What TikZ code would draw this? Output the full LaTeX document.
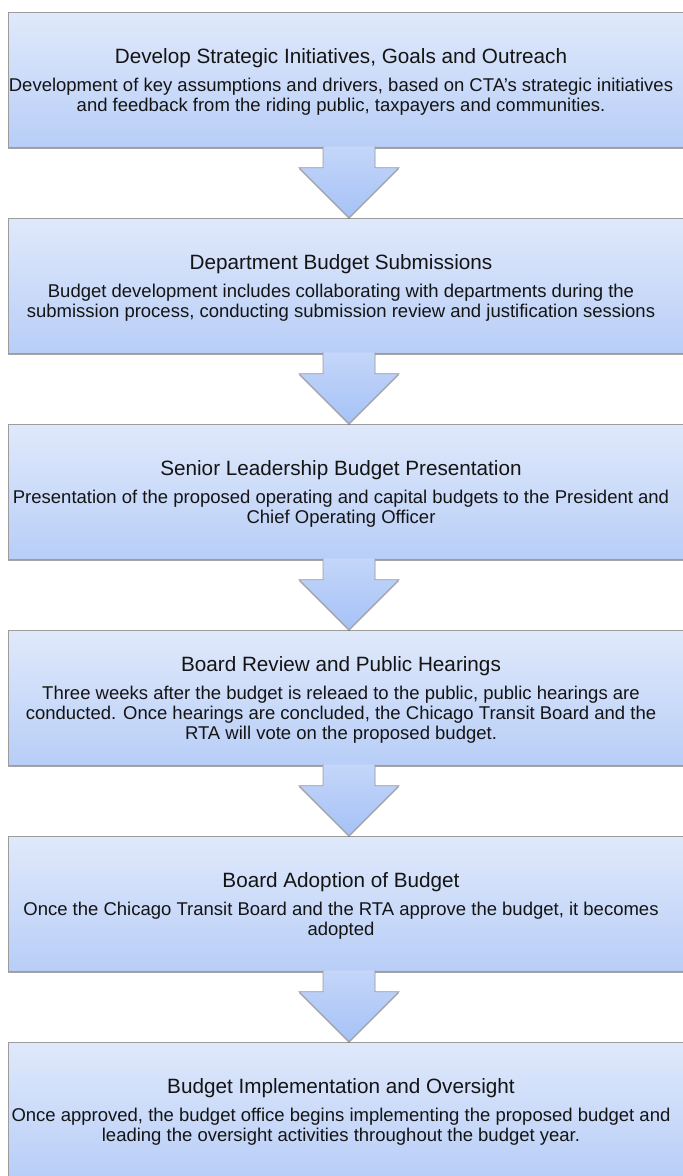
\documentclass[tikz,border=0pt]{standalone}
\usepackage{fontspec}
\setmainfont{Liberation Sans}
\usetikzlibrary{calc,shadows}
\definecolor{boxtop}{HTML}{E0E9FB}
\definecolor{boxbot}{HTML}{B8CEF7}
\definecolor{arrtop}{HTML}{C4D6F9}
\definecolor{arrbot}{HTML}{A6C2F7}
\definecolor{edge}{HTML}{9C9C9C}
\definecolor{txt}{HTML}{141414}
\tikzset{
  stepbox/.style={rectangle, minimum width=692pt, minimum height=135pt, inner sep=0pt,
    draw=edge, line width=0.7pt, top color=boxtop, bottom color=boxbot,
    drop shadow={shadow xshift=0pt, shadow yshift=-2pt, opacity=0.5, fill=black!70}},
  steptext/.style={align=center, text=txt, inner sep=0pt, font=\fontsize{18.5}{20}\selectfont},
  blockarrow/.style={draw=edge, line width=0.7pt, top color=arrtop, bottom color=arrbot,
    drop shadow={shadow xshift=0pt, shadow yshift=-1.5pt, opacity=0.4, fill=black!70}}
}
\newcommand{\steptitle}[1]{{\fontsize{20.7}{22}\selectfont #1}}
\begin{document}
\begin{tikzpicture}[x=1pt,y=-1pt]
\useasboundingbox (0,0) rectangle (683,1176);
\clip (0,0) rectangle (683,1176);
% boxes
\node[stepbox] (b1) at (354,79.5) {};
\node[stepbox] (b2) at (354,285.5) {};
\node[stepbox] (b3) at (354,491.5) {};
\node[stepbox] (b4) at (354,697.5) {};
\node[stepbox] (b5) at (354,903.5) {};
\node[stepbox] (b6) at (354,1109.5) {};
% texts
\node[steptext] (t1) at ($(b1.center)+(-13,2.5)$) {\steptitle{Develop Strategic Initiatives, Goals and Outreach}\\[8pt]
  Development of key assumptions and drivers, based on CTA’s strategic initiatives\\
  and feedback from the riding public, taxpayers and communities.};
\node[steptext] (t2) at ($(b2.center)+(-13,2.5)$) {\steptitle{Department Budget Submissions}\\[8pt]
  Budget development includes collaborating with departments during the\\
  submission process, conducting submission review and justification sessions};
\node[steptext] (t3) at ($(b3.center)+(-13,2.5)$) {\steptitle{Senior Leadership Budget Presentation}\\[8pt]
  Presentation of the proposed operating and capital budgets to the President and\\
  Chief Operating Officer};
\node[steptext] (t4) at ($(b4.center)+(-13,2.5)$) {\steptitle{Board Review and Public Hearings}\\[8pt]
  Three weeks after the budget is releaed to the public, public hearings are\\
  conducted. Once hearings are concluded, the Chicago Transit Board and the\\
  RTA will vote on the proposed budget.};
\node[steptext] (t5) at ($(b5.center)+(-13,2.5)$) {\steptitle{Board Adoption of Budget}\\[8pt]
  Once the Chicago Transit Board and the RTA approve the budget, it becomes\\
  adopted};
\node[steptext] (t6) at ($(b6.center)+(-13,2.5)$) {\steptitle{Budget Implementation and Oversight}\\[8pt]
  Once approved, the budget office begins implementing the proposed budget and\\
  leading the oversight activities throughout the budget year.};
% arrows
\foreach \a/\b in {b1/b2,b2/b3,b3/b4,b4/b5,b5/b6}{
  \coordinate (s) at ($(\a.south)+(-5,0)$);
  \coordinate (h) at ($(\b.north)+(-5,0)$);
  \path[blockarrow] ($(s)+(-26,-1)$) -- ($(h)+(-26,-50)$) -- ($(h)+(-50,-50)$) -- (h)
    -- ($(h)+(50,-50)$) -- ($(h)+(26,-50)$) -- ($(s)+(26,-1)$);
}
\end{tikzpicture}
\end{document}
